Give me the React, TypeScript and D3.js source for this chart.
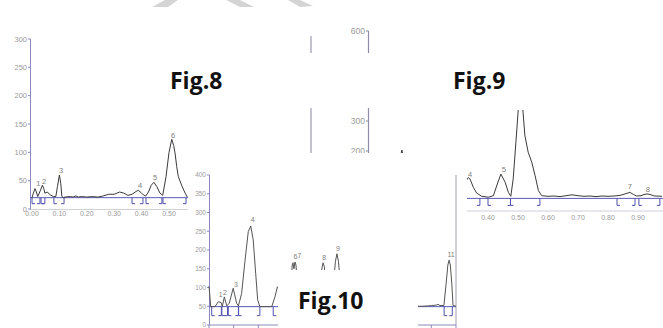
import React from 'react';
import * as d3 from 'd3';

// ---------- Fig.8 data (Rf, response) ----------
const fig8Rf = [0, 0.005, 0.011, 0.016, 0.021, 0.03, 0.038, 0.043, 0.047, 0.056, 0.066, 0.078, 0.087, 0.093, 0.1, 0.105, 0.109, 0.115,
  0.12, 0.14, 0.15, 0.16, 0.17, 0.18, 0.2, 0.22, 0.24, 0.26, 0.28, 0.3, 0.32, 0.335, 0.35, 0.365, 0.38, 0.388, 0.398, 0.406, 0.415,
  0.425, 0.435, 0.445, 0.455, 0.467, 0.477, 0.489, 0.5, 0.51, 0.517, 0.522, 0.528, 0.534, 0.546, 0.555, 0.562, 0.567];
const fig8Val = [20, 28, 36, 30, 22, 32, 42, 36, 28, 30, 25, 22, 22, 40, 60, 45, 22, 20,
  21, 22, 21, 23, 21, 22, 21, 22, 21, 23, 26, 26, 30, 28, 24, 26, 31, 33, 29, 25, 23,
  30, 42, 47, 40, 28, 24, 57, 100, 123, 112, 99, 75, 57, 42, 32, 25, 21];
const fig8PeakNames = ['1', '2', '3', '4', '5', '6'];
const fig8PeakRf = [0.023, 0.044, 0.106, 0.394, 0.449, 0.515];
const fig8PeakVal = [46, 49, 69, 42, 56, 130];
const fig8BracketStart = [0, 0.033, 0.08, 0.365, 0.416, 0.478];
const fig8BracketEnd = [0.029, 0.047, 0.117, 0.405, 0.474, 0.562];
const fig8Baseline = 20;
const fig8YTicks = [0, 50, 100, 150, 200, 250, 300];
const fig8XTicks = [0, 0.1, 0.2, 0.3, 0.4, 0.5];

// ---------- Fig.9 data ----------
const fig9Rf = [0.1, 0.113, 0.125, 0.32, 0.335, 0.34, 0.351, 0.362, 0.379, 0.401, 0.418, 0.431, 0.443, 0.457, 0.468, 0.476,
  0.484, 0.493, 0.501, 0.508, 0.516, 0.523, 0.534, 0.546, 0.557, 0.568, 0.579, 0.6, 0.62, 0.64, 0.66, 0.68, 0.7, 0.72,
  0.74, 0.76, 0.78, 0.8, 0.82, 0.84, 0.86, 0.873, 0.885, 0.895, 0.91, 0.92, 0.93, 0.94, 0.955, 0.98];
const fig9Val = [150, 203, 150, 90, 112, 107, 79, 60, 49, 46, 51, 90, 123, 96, 62, 49,
  107, 229, 340, 700, 340, 251, 196, 162, 118, 68, 51, 49, 50, 48, 51, 54, 51, 49,
  50, 48, 50, 49, 50, 52, 58, 62, 55, 50, 51, 55, 57, 55, 50, 49];
const fig9PeakNames = ['4', '5', '7', '8'];
const fig9PeakRf = [0.34, 0.453, 0.873, 0.933];
const fig9PeakVal = [123, 140, 83, 73];
const fig9BracketStart = [0.4, 0.475, 0.83, 0.903];
const fig9BracketEnd = [0.373, 0.475, 0.573, 0.89, 0.973];
const fig9Baseline = 42;
const fig9YTicks = [0, 100, 200, 300, 400, 500, 600];
const fig9XTicks = [0.3, 0.4, 0.5, 0.6, 0.7, 0.8, 0.9];

// ---------- Fig.10 data ----------
const fig10Rf = [0, 0.007, 0.024, 0.038, 0.049, 0.054, 0.062, 0.072, 0.082, 0.098, 0.112, 0.119, 0.132, 0.146, 0.159, 0.169,
  0.179, 0.189, 0.197, 0.206, 0.254, 0.267, 0.277, 0.31, 0.325, 0.333, 0.337, 0.34, 0.344, 0.348, 0.352, 0.357, 0.365,
  0.44, 0.452, 0.458, 0.462, 0.467, 0.472, 0.485, 0.49, 0.505, 0.512, 0.518, 0.524, 0.531, 0.545,
  0.86, 0.89, 0.9, 0.92, 0.927, 0.935, 0.951, 0.96, 0.967, 0.972, 0.977, 0.983, 0.988, 1.0];
const fig10Val = [104, 49, 49, 62, 60, 49, 75, 51, 58, 98, 58, 51, 84, 173, 249, 264,
  227, 138, 67, 49, 49, 75, 102, 60, 52, 120, 160, 166, 150, 168, 160, 120, 52,
  52, 120, 155, 166, 155, 120, 52, 52, 120, 170, 190, 170, 120, 52,
  50, 51, 52, 53, 55, 52, 52, 110, 160, 173, 160, 110, 52, 50];
const fig10PeakNames = ['1', '2', '3', '4', '6', '7', '8', '9', '11'];
const fig10PeakRf = [0.047, 0.065, 0.109, 0.177, 0.35, 0.366, 0.466, 0.522, 0.98];
const fig10PeakVal = [80, 86, 109, 280, 182, 184, 179, 205, 187];
const fig10BracketStart = [0.011, 0.052, 0.078, 0.12, 0.26, 0.952];
const fig10BracketEnd = [0.05, 0.075, 0.119, 0.206, 0.985];
const fig10Baseline = 49;
const fig10YTicks = [0, 50, 100, 150, 200, 250, 300, 350, 400];
const fig10XTicks = [0, 0.1, 0.2, 0.3, 0.4, 0.5, 0.6, 0.7, 0.8, 0.9, 1.0];

const LABEL_FONT = '"Liberation Sans", Arial, sans-serif';
const AXIS = '#8a8abd';
const BASE = '#5b5bb8';
const BRACKET = '#5050ad';
const TXT = '#9a9a9a';

type Sc = d3.ScaleLinear<number, number>;

function trace(rf: number[], val: number[], x: Sc, y: Sc) {
  const line = d3.line<number>().x((_, i) => x(rf[i])).y((_, i) => y(val[i]));
  return line(val) || '';
}

function Brackets({ x, yb, starts, ends, depth }: { x: Sc; yb: number; starts: number[]; ends: number[]; depth: number }) {
  return (
    <g stroke={BRACKET} strokeWidth={1} fill="none">
      {starts.map((s, i) => {
        const px = x(s);
        return <path key={'s' + i} d={`M${px + 3},${yb + depth}H${px}V${yb}`} />;
      })}
      {ends.map((e, i) => {
        const px = x(e);
        return <path key={'e' + i} d={`M${px - 3},${yb + depth}H${px}V${yb}`} />;
      })}
    </g>
  );
}

function PeakLabels({ x, y, names, rf, val, size }: { x: Sc; y: Sc; names: string[]; rf: number[]; val: number[]; size: number }) {
  return (
    <g fontFamily={LABEL_FONT} fontSize={size} fill="#808080" textAnchor="middle">
      {names.map((n, i) => (
        <text key={n + i} x={x(rf[i])} y={y(val[i])} dy="0.35em">{n}</text>
      ))}
    </g>
  );
}

export default function App() {
  // Fig.8 scales
  const x8 = d3.scaleLinear().domain([0, 0.57]).range([32, 188.2]);
  const y8 = d3.scaleLinear().domain([0, 300]).range([209, 39]);
  // Fig.9 scales
  const x9 = d3.scaleLinear().domain([0, 0.98]).range([368, 662]);
  const y9 = d3.scaleLinear().domain([0, 600]).range([211, 31]);
  // Fig.10 scales
  const x10 = d3.scaleLinear().domain([0, 1]).range([209, 456]);
  const y10 = d3.scaleLinear().domain([0, 400]).range([325, 175]);

  const figFont = '"Open Sans", "Liberation Sans", sans-serif';

  return (
    <svg width={663} height={328} style={{ position: 'absolute', left: 0, top: 0, background: '#fff' }}>
      <defs>
        <clipPath id="clip8"><rect x={0} y={20} width={192} height={205} /></clipPath>
        <clipPath id="clip9">
          <rect x={300} y={28} width={120} height={25} />
          <rect x={300} y={108} width={120} height={45} />
          <rect x={467} y={110} width={196} height={118} />
        </clipPath>
        <clipPath id="clip10">
          <rect x={180} y={160} width={98} height={168} />
          <rect x={288} y={244} width={58} height={26} />
          <rect x={418} y={170} width={40} height={158} />
        </clipPath>
      </defs>
      <rect x={0} y={0} width={663} height={328} fill="#fff" />

      {/* watermark fragments */}
      <g fill="#d4d4d4">
        <path d="M165,0 L178,0 L168,7 L152,7 Z" />
        <path d="M226,0 L240,0 L254,7 L240,7 Z" />
        <path d="M288,0 L300,0 L313,6 L300,7 Z" />
      </g>

      {/* ---------------- Fig.8 ---------------- */}
      <g clipPath="url(#clip8)">
        <line x1={30} x2={188} y1={209.5} y2={209.5} stroke="#d0d0d8" />
        <line x1={30.5} x2={30.5} y1={y8(300)} y2={209.5} stroke={AXIS} strokeWidth={1} />
        {fig8YTicks.map(t => (
          <g key={t}>
            <line x1={28} x2={30.5} y1={y8(t)} y2={y8(t)} stroke={AXIS} />
            <text x={27} y={y8(t)} dy="0.35em" textAnchor="end" fontFamily={LABEL_FONT} fontSize={7.5} fill={TXT}>{t}</text>
          </g>
        ))}
        {fig8XTicks.map(t => (
          <text key={t} x={x8(t)} y={213.5} dy="0.35em" textAnchor="middle" fontFamily={LABEL_FONT} fontSize={7} fill={TXT}>{d3.format('.2f')(t)}</text>
        ))}
        <line x1={30} x2={188} y1={y8(fig8Baseline)} y2={y8(fig8Baseline)} stroke={BASE} strokeWidth={1} />
        <Brackets x={x8} yb={y8(fig8Baseline)} starts={fig8BracketStart} ends={fig8BracketEnd} depth={6} />
        <path d={trace(fig8Rf, fig8Val, x8, y8)} fill="none" stroke="#3a3a3a" strokeWidth={1} />
        <PeakLabels x={x8} y={y8} names={fig8PeakNames} rf={fig8PeakRf} val={fig8PeakVal} size={7.5} />
      </g>

      {/* ---------------- Fig.9 ---------------- */}
      <g clipPath="url(#clip9)">
        <line x1={311} x2={311} y1={36} y2={212} stroke="#9a9aae" strokeWidth={1.2} />
        <line x1={368.5} x2={368.5} y1={y9(600)} y2={y9(0)} stroke="#8c8ca8" strokeWidth={1.2} />
        {fig9YTicks.map(t => (
          <g key={t}>
            <line x1={366} x2={368.5} y1={y9(t)} y2={y9(t)} stroke="#8c8ca8" />
            <text x={365} y={y9(t)} dy="0.35em" textAnchor="end" fontFamily={LABEL_FONT} fontSize={8.5} fill={TXT}>{t}</text>
          </g>
        ))}
        <line x1={368} x2={663} y1={y9(0)} y2={y9(0)} stroke="#cfcfda" />
        {fig9XTicks.map(t => (
          <text key={t} x={x9(t)} y={217.5} dy="0.35em" textAnchor="middle" fontFamily={LABEL_FONT} fontSize={7} fill={TXT}>{d3.format('.2f')(t)}</text>
        ))}
        <line x1={368} x2={663} y1={y9(fig9Baseline)} y2={y9(fig9Baseline)} stroke={BASE} strokeWidth={1} />
        <Brackets x={x9} yb={y9(fig9Baseline)} starts={fig9BracketStart} ends={fig9BracketEnd} depth={7} />
        <path d={trace(fig9Rf, fig9Val, x9, y9)} fill="none" stroke="#3a3a3a" strokeWidth={1} />
        <PeakLabels x={x9} y={y9} names={fig9PeakNames} rf={fig9PeakRf} val={fig9PeakVal} size={7.5} />
      </g>

      {/* ---------------- Fig.10 ---------------- */}
      <g clipPath="url(#clip10)">
        <line x1={209.5} x2={209.5} y1={y10(400)} y2={y10(0)} stroke={AXIS} strokeWidth={1} />
        <line x1={456} x2={456} y1={y10(400)} y2={y10(0)} stroke="#a0a0b4" strokeWidth={1} />
        {fig10YTicks.map(t => (
          <g key={t}>
            <line x1={207} x2={209.5} y1={y10(t)} y2={y10(t)} stroke={AXIS} />
            <text x={206} y={y10(t)} dy="0.35em" textAnchor="end" fontFamily={LABEL_FONT} fontSize={6.5} fill={TXT}>{t}</text>
          </g>
        ))}
        <line x1={209} x2={456} y1={y10(0)} y2={y10(0)} stroke={AXIS} />
        {fig10XTicks.map(t => (
          <line key={t} x1={x10(t)} x2={x10(t)} y1={y10(0)} y2={y10(0) + 3} stroke={AXIS} />
        ))}
        <line x1={209} x2={456} y1={y10(fig10Baseline)} y2={y10(fig10Baseline)} stroke={BASE} strokeWidth={1} />
        <Brackets x={x10} yb={y10(fig10Baseline)} starts={fig10BracketStart} ends={fig10BracketEnd} depth={9} />
        <path d={trace(fig10Rf, fig10Val, x10, y10)} fill="none" stroke="#555" strokeWidth={1} />
        <PeakLabels x={x10} y={y10} names={fig10PeakNames} rf={fig10PeakRf} val={fig10PeakVal} size={7} />
      </g>

      {/* figure captions */}
      <g fontFamily={figFont} fontWeight={700} fontSize={23} fill="#111">
        <text x={170} y={89}>Fig.8</text>
        <text x={453} y={89}>Fig.9</text>
        <text x={298} y={309}>Fig.10</text>
      </g>
    </svg>
  );
}
